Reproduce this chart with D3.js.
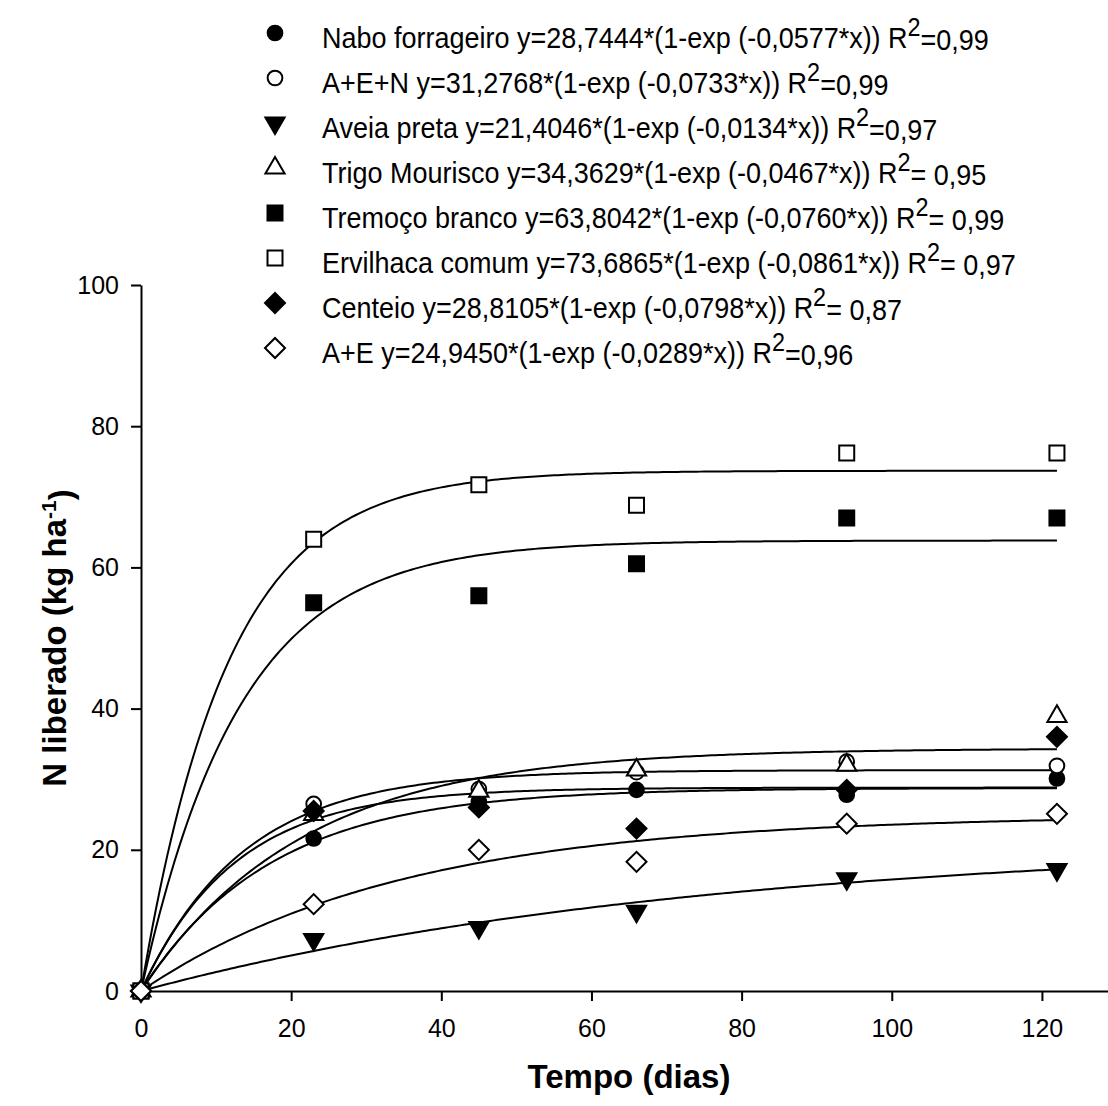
<!DOCTYPE html>
<html>
<head>
<meta charset="utf-8">
<script src="https://cdn.jsdelivr.net/npm/d3@7"></script>
<style>
  body { margin: 0; background: #fff; }
  svg { display: block; }
</style>
</head>
<body>
<div id="chart"></div>
<script>
// sampling days
const days = [0, 23, 45, 66, 94, 122];

// N released (kg/ha) per cover crop
const nabo      = [0, 21.6, 26.8, 28.5, 27.8, 30.1];
const aen       = [0, 26.5, 28.6, 31.0, 32.5, 31.9];
const aveia     = [0, 7.3, 9.0, 11.3, 15.9, 17.2];
const trigo     = [0, 25.0, 28.3, 31.3, 32.0, 38.9];
const tremoco   = [0, 55.0, 56.0, 60.5, 67.0, 67.0];
const ervilhaca = [0, 64.0, 71.7, 68.8, 76.2, 76.2];
const centeio   = [0, 25.5, 26.0, 23.0, 28.5, 36.0];
const ae        = [0, 12.3, 20.0, 18.3, 23.7, 25.1];

const names = ["Nabo forrageiro", "A+E+N", "Aveia preta", "Trigo Mourisco",
               "Tremoço branco", "Ervilhaca comum", "Centeio", "A+E"];
const values = [nabo, aen, aveia, trigo, tremoco, ervilhaca, centeio, ae];
// fitted model y = a*(1-exp(-k*x))
const coefA = [28.7444, 31.2768, 21.4046, 34.3629, 63.8042, 73.6865, 28.8105, 24.9450];
const coefK = [0.0577, 0.0733, 0.0134, 0.0467, 0.0760, 0.0861, 0.0798, 0.0289];
const r2Text = ["=0,99", "=0,99", "=0,97", "= 0,95", "= 0,99", "= 0,97", "= 0,87", "=0,96"];
const symbolNames = ["circle", "circle", "triangleDown", "triangle", "square", "square", "diamond", "diamond"];
const filled = [true, false, true, false, true, false, true, false];

const xTicks = [0, 20, 40, 60, 80, 100, 120];
const yTicks = [0, 20, 40, 60, 80, 100];

const width = 1108, height = 1106;
const svg = d3.select("#chart").append("svg")
    .attr("width", width)
    .attr("height", height)
    .style("background", "#fff");

const x = d3.scaleLinear().domain([0, 130]).range([141, 1117]);
const y = d3.scaleLinear().domain([0, 100]).range([991, 285]);

const font = "'Liberation Sans', Arial, sans-serif";

// axes
const xAxis = svg.append("g")
    .attr("transform", `translate(0,${y(0)})`)
    .call(d3.axisBottom(x).tickValues(xTicks).tickSize(10).tickPadding(12).tickSizeOuter(0));
const yAxis = svg.append("g")
    .attr("transform", `translate(${x(0)},0)`)
    .call(d3.axisLeft(y).tickValues(yTicks).tickSize(10).tickPadding(12).tickSizeOuter(0));

[xAxis, yAxis].forEach(g => {
    g.selectAll("path, line").attr("stroke", "#000").attr("stroke-width", 2);
    g.selectAll("text").attr("fill", "#000").style("font", `25px ${font}`);
});
xAxis.selectAll("text").attr("dy", "0.95em");

// axis titles
svg.append("text")
    .attr("x", (x.range()[0] + x.range()[1]) / 2)
    .attr("y", 1088)
    .attr("text-anchor", "middle")
    .style("font", `bold 33px ${font}`)
    .text("Tempo (dias)");

const yTitle = svg.append("text")
    .attr("transform", `translate(66,${(y(0) + y(100)) / 2}) rotate(-90)`)
    .attr("text-anchor", "middle")
    .style("font", `bold 33px ${font}`);
yTitle.append("tspan").text("N liberado (kg ha");
yTitle.append("tspan").attr("dy", "-0.5em").style("font-size", "21px").text("-1");
yTitle.append("tspan").attr("dy", "0.5em").text(")");

// symbol generator
function symbolPath(name) {
    const sizes = { circle: 170, triangle: 160, triangleDown: 160, square: 225, diamond: 200 };
    const t = name === "circle" ? d3.symbolCircle
        : (name === "triangle" || name === "triangleDown") ? d3.symbolTriangle
        : d3.symbolSquare;
    return d3.symbol().type(t).size(sizes[name])();
}
function symbolRotate(name) {
    return name === "triangleDown" ? 180 : name === "diamond" ? 45 : 0;
}

// fitted curves
const line = d3.line().x(d => x(d[0])).y(d => y(d[1]));
const xs = d3.range(0, 122.01, 0.5);
names.forEach((n, i) => {
    svg.append("path")
        .datum(xs.map(t => [t, coefA[i] * (1 - Math.exp(-coefK[i] * t))]))
        .attr("fill", "none")
        .attr("stroke", "#000")
        .attr("stroke-width", 2)
        .attr("d", line);
});

// data points
names.forEach((n, i) => {
    svg.append("g").selectAll("path")
        .data(days.map((d, j) => [d, values[i][j]]))
        .join("path")
        .attr("transform", d => `translate(${x(d[0])},${y(d[1])}) rotate(${symbolRotate(symbolNames[i])})`)
        .attr("d", symbolPath(symbolNames[i]))
        .attr("fill", filled[i] ? "#000" : "#fff")
        .attr("stroke", "#000")
        .attr("stroke-width", 2);
});

// legend
const legend = svg.append("g");
names.forEach((n, i) => {
    const cy = 37 + i * 45;
    legend.append("path")
        .attr("transform", `translate(275,${cy - 4}) rotate(${symbolRotate(symbolNames[i])})`)
        .attr("d", symbolPath(symbolNames[i]))
        .attr("fill", filled[i] ? "#000" : "#fff")
        .attr("stroke", "#000")
        .attr("stroke-width", 2);
    const eq = `${n} y=${coefA[i].toFixed(4)}*(1-exp (-${coefK[i].toFixed(4)}*x)) R`.replace(/\./g, ",");
    const t = legend.append("text")
        .attr("transform", `translate(322,${cy + 11}) scale(0.9,1)`)
        .style("font", `30px ${font}`)
        .attr("fill", "#000");
    t.append("tspan").text(eq);
    t.append("tspan").attr("dy", "-0.45em").style("font-size", "26px").text("2");
    t.append("tspan").attr("dy", "0.45em").text(r2Text[i]);
});
</script>
</body>
</html>
